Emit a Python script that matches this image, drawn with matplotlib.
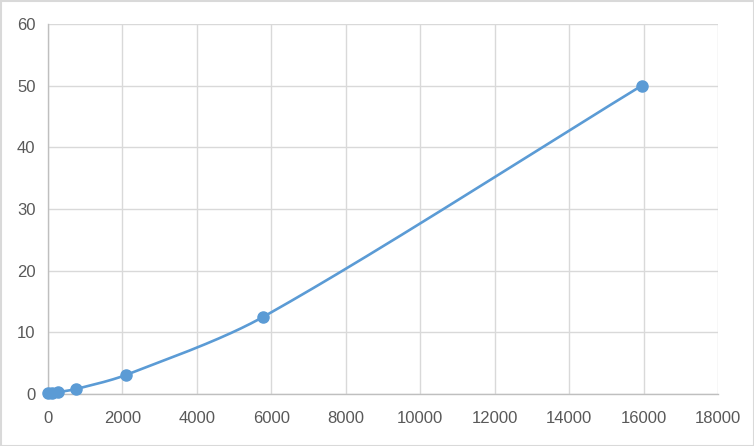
import numpy as np
import matplotlib
matplotlib.use("Agg")
import matplotlib.pyplot as plt
from matplotlib.patches import Rectangle

x_vals = [0, 100, 270, 750, 2100, 5780, 15950]
y_vals = [0.1, 0.15, 0.3, 0.8, 3.1, 12.5, 50.0]
x_ticks = [0, 2000, 4000, 6000, 8000, 10000, 12000, 14000, 16000, 18000]
y_ticks = [0, 10, 20, 30, 40, 50, 60]

def excel_smooth(xs, ys, sxs, sys_, k=0.3, n=80):
    # work in approximately display-proportional space
    X = np.asarray(xs, float) * sxs; Y = np.asarray(ys, float) * sys_
    P = np.column_stack([X, Y])
    m = len(P)
    tang = []
    for i in range(m):
        a = P[i-1] if i > 0 else P[i]
        b = P[i+1] if i < m - 1 else P[i]
        d = b - a
        tang.append(d / (np.linalg.norm(d) + 1e-12))
    out = []
    t = np.linspace(0, 1, n)[:, None]
    for i in range(m - 1):
        L = np.linalg.norm(P[i+1] - P[i])
        c1 = P[i] + tang[i] * L * k
        c2 = P[i+1] - tang[i+1] * L * k
        B = (1-t)**3*P[i] + 3*(1-t)**2*t*c1 + 3*(1-t)*t**2*c2 + t**3*P[i+1]
        out.append(B)
    B = np.vstack(out)
    return B[:, 0] / sxs, B[:, 1] / sys_

plt.rcParams['font.family'] = ['Liberation Sans', 'DejaVu Sans']
fig = plt.figure(figsize=(7.54, 4.46), dpi=100)
ax = fig.add_axes([48/754, 52/446, 670/754, 370/446])

ax.set_xlim(0, 18000)
ax.set_ylim(0, 60)
sx, sy = excel_smooth(x_vals, y_vals, 670/18000, 370/60)
color = '#5b9bd5'
ax.plot(sx, sy, color=color, lw=1.9, solid_capstyle='round', zorder=3)
ax.plot(x_vals, y_vals, 'o', color=color, ms=8, zorder=4, clip_on=False)

ax.set_xticks(x_ticks)
ax.set_yticks(y_ticks)
ax.grid(True, color='#d9d9d9', lw=1)
ax.set_axisbelow(True)
for s in ['top', 'right']:
    ax.spines[s].set_visible(False)
for s in ['left', 'bottom']:
    ax.spines[s].set_color('#bfbfbf')
    ax.spines[s].set_linewidth(1)
ax.tick_params(length=0, colors='#595959', labelsize=12)
ax.tick_params(axis='x', pad=12)
ax.tick_params(axis='y', pad=9)

fig.patches.append(Rectangle((0.5/754, 0.5/446), 753/754, 445/446, transform=fig.transFigure,
                             fill=False, edgecolor='#d9d9d9', lw=1.5))
fig.savefig('out.png', dpi=100)
